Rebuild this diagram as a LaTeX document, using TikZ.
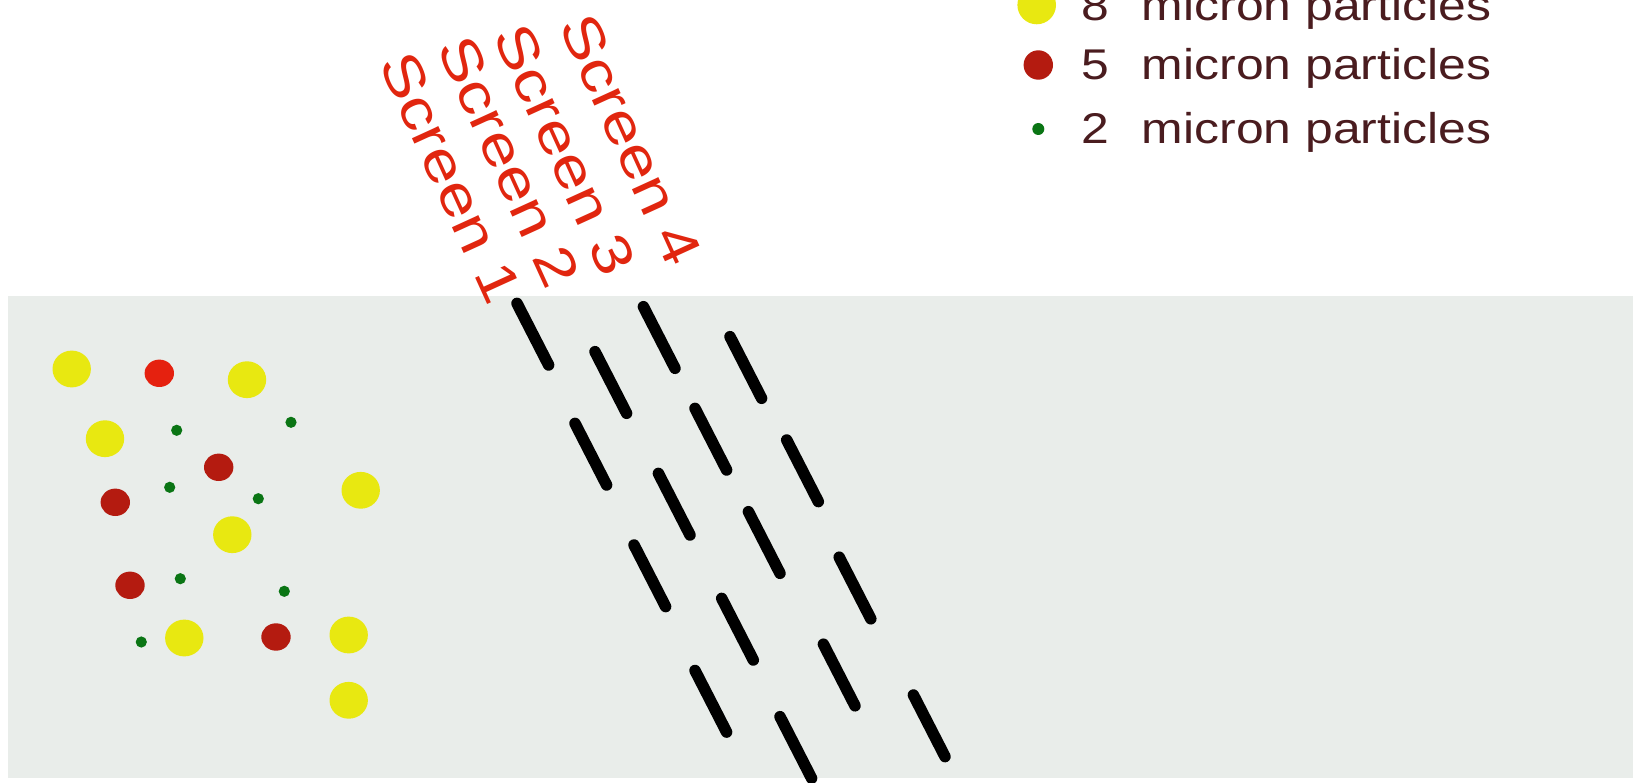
\documentclass[tikz,border=0pt]{standalone}
\usepackage{fontspec}
\setmainfont{Liberation Sans}
\definecolor{bggray}{HTML}{E9EDEA}
\definecolor{pyellow}{HTML}{E8E811}
\definecolor{pred}{HTML}{E5210F}
\definecolor{pdred}{HTML}{B41B10}
\definecolor{pgreen}{HTML}{0A7514}
\definecolor{scrred}{HTML}{E1260F}
\definecolor{legtext}{HTML}{4A1C1F}
\tikzset{
  big/.style={fill=pyellow},
  mid/.style={fill=pdred},
  small/.style={fill=pgreen},
  screendash/.style={line width=11.5pt, line cap=round, black},
  scrlabel/.style={text=scrred, font=\fontsize{55}{62}\selectfont, rotate=-65.5, xscale=1.22, inner sep=0pt, anchor=center},
  legnum/.style={text=legtext, font=\fontsize{43}{50}\selectfont, xscale=1.16, inner sep=0pt, anchor=base west},
}
\begin{document}
\begin{tikzpicture}[x=1pt,y=-1pt]
\useasboundingbox (0,0) rectangle (1633,783);
\fill[white] (0,0) rectangle (1633,783);
\fill[bggray] (8,296) rectangle (1633,778);

% large particles
\foreach \p in {(71.7,369),(247,379.7),(105,438.7),(360.7,490.3),(232.3,534.7),(184.3,638),(348.7,635),(348.7,700.3)}
  \fill[big] \p ellipse [x radius=19.2, y radius=18.4];
% medium particles
\fill[pred] (159.3,373.3) ellipse [x radius=14.7, y radius=13.7];
\foreach \p in {(218.7,467.3),(115.3,502.3),(130,585.3),(276,637)}
  \fill[mid] \p ellipse [x radius=14.7, y radius=13.7];
% small particles
\foreach \p in {(176.7,430.3),(291,422.3),(169.7,487.3),(258.3,498.7),(180.3,578.7),(284.3,591.3),(141.3,642)}
  \fill[small] \p circle [radius=5.6];

% screens
\foreach \c in {(532.8,334.2),(590.8,454.2),(649.8,575.8),(710.8,701.3),
                (610.8,382.5),(674.2,504.2),(737.5,629.2),(795.8,747.5),
                (659.2,337.5),(710.8,439.2),(764.2,542.5),(839.2,675),
                (745.8,367.5),(802.5,470.8),(855,588),(929.2,725.8)}
  \draw[screendash] \c ++(-15.8,-30.8) -- ++(31.6,61.6);

\node[scrlabel] (s1) at (451,178) {Screen 1};
\node[scrlabel] (s2) at (509,162) {Screen 2};
\node[scrlabel] (s3) at (565,150) {Screen 3};
\node[scrlabel] (s4) at (631,140) {Screen 4};

% legend
\fill[big] (1036.7,5) circle [radius=19.3];
\fill[mid] (1038.3,65) circle [radius=14.7];
\fill[small] (1038.3,129) circle [radius=6];
\node[legnum] (n8) at (1081.7,20.7) {8};
\node[legnum] (n5) at (1081.7,80) {5};
\node[legnum] (n2) at (1081.7,144) {2};
\node[legnum] (t8) at (1141.7,20.7) {micron particles};
\node[legnum] (t5) at (1141.7,80) {micron particles};
\node[legnum] (t2) at (1141.7,144) {micron particles};
\end{tikzpicture}
\end{document}
